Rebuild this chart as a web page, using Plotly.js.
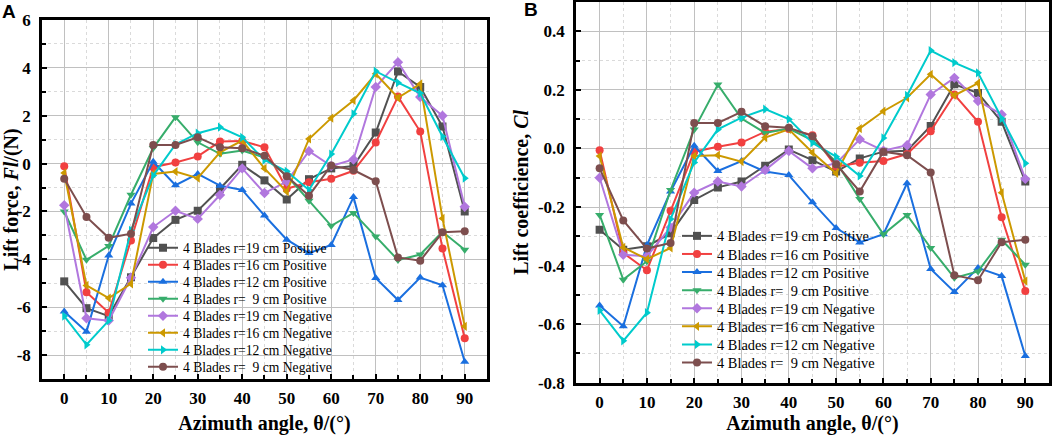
<!DOCTYPE html>
<html><head><meta charset="utf-8">
<script src="https://cdn.plot.ly/plotly-3.0.1.min.js"></script>
<style>html,body{margin:0;padding:0;background:#fff}#chart{width:1052px;height:435px}</style>
</head><body><div id="chart"></div><script>
// ---- data ----
const angles = [0,5,10,15,20,25,30,35,40,45,50,55,60,65,70,75,80,85,90];
const seriesNames = [
  "4 Blades r=19 cm Positive",
  "4 Blades r=16 cm Positive",
  "4 Blades r=12 cm Positive",
  "4 Blades r=\u00a0\u00a09 cm Positive",
  "4 Blades r=19 cm Negative",
  "4 Blades r=16 cm Negative",
  "4 Blades r=12 cm Negative",
  "4 Blades r=\u00a0\u00a09 cm Negative"
];
// Panel A: lift force Fl (N)
const force_r19Pos = [-4.92,-6.04,-6.37,-4.75,-3.11,-2.35,-1.97,-1.05,-0.05,-0.7,-1.5,-0.65,-0.2,-0.1,1.3,3.85,3.2,1.55,-2.0];
const force_r16Pos = [-0.11,-5.37,-6.23,-3.21,-0.15,0.05,0.3,0.92,0.95,0.68,-1.05,-0.78,-0.63,-0.3,0.88,2.8,1.34,-3.55,-7.3];
const force_r12Pos = [-6.18,-7.02,-3.84,-1.67,0.08,-0.9,-0.43,-0.92,-1.1,-2.17,-3.18,-3.74,-3.4,-1.4,-4.78,-5.7,-4.76,-5.08,-8.28];
const force_r9Pos  = [-2.0,-4.02,-3.44,-1.3,0.65,1.94,0.89,0.41,0.55,0.25,-0.5,-1.55,-2.6,-2.06,-3.05,-4.03,-3.8,-2.85,-3.6];
const force_r19Neg = [-1.74,-6.46,-6.56,-4.77,-2.65,-1.97,-2.31,-1.31,-0.2,-1.23,-0.75,0.52,-0.1,0.17,3.2,4.24,2.78,2.0,-1.8];
const force_r16Neg = [-0.39,-5.09,-5.62,-5.02,-0.43,-0.33,-0.61,0.47,0.96,-0.2,-1.17,1.03,1.9,2.64,3.75,2.75,3.33,-2.29,-6.8];
const force_r12Neg = [-6.37,-7.57,-6.56,-2.79,-0.5,0.8,1.27,1.52,1.1,0.15,-0.32,-1.1,0.4,2.08,3.86,3.38,2.94,1.13,-0.61];
const force_r9Neg  = [-0.63,-2.23,-3.1,-2.93,0.78,0.78,1.1,0.68,0.64,0.33,-0.53,-1.34,-0.08,-0.27,-0.74,-3.92,-4.06,-2.87,-2.83];
// Panel B: lift coefficient Cl
const cl_r19Pos = [-0.278,-0.346,-0.334,-0.29,-0.176,-0.133,-0.113,-0.059,-0.004,-0.04,-0.079,-0.034,-0.011,-0.008,0.077,0.219,0.189,0.091,-0.113];
const cl_r16Pos = [-0.006,-0.357,-0.416,-0.213,-0.011,0.006,0.02,0.057,0.066,0.045,-0.062,-0.049,-0.043,-0.019,0.059,0.184,0.091,-0.235,-0.487];
const cl_r12Pos = [-0.536,-0.607,-0.33,-0.147,0.009,-0.077,-0.043,-0.079,-0.091,-0.184,-0.272,-0.321,-0.293,-0.119,-0.412,-0.49,-0.408,-0.436,-0.709];
const cl_r9Pos  = [-0.227,-0.448,-0.385,-0.142,0.065,0.218,0.102,0.053,0.068,0.028,-0.045,-0.173,-0.293,-0.227,-0.34,-0.442,-0.42,-0.312,-0.397];
const cl_r19Neg = [-0.1,-0.363,-0.368,-0.27,-0.151,-0.113,-0.13,-0.074,-0.009,-0.068,-0.051,0.031,-0.008,0.011,0.184,0.241,0.162,0.116,-0.104];
const cl_r16Neg = [-0.026,-0.338,-0.378,-0.34,-0.026,-0.023,-0.045,0.037,0.065,-0.014,-0.085,0.068,0.127,0.173,0.253,0.181,0.223,-0.151,-0.453];
const cl_r12Neg = [-0.553,-0.657,-0.561,-0.241,-0.048,0.065,0.105,0.134,0.1,0.019,-0.028,-0.094,0.036,0.181,0.334,0.293,0.258,0.102,-0.051];
const cl_r9Neg  = [-0.068,-0.246,-0.342,-0.323,0.087,0.087,0.125,0.076,0.071,0.042,-0.054,-0.147,-0.011,-0.023,-0.082,-0.433,-0.45,-0.32,-0.312];

const forceSeries = [force_r19Pos,force_r16Pos,force_r12Pos,force_r9Pos,force_r19Neg,force_r16Neg,force_r12Neg,force_r9Neg];
const clSeries = [cl_r19Pos,cl_r16Pos,cl_r12Pos,cl_r9Pos,cl_r19Neg,cl_r16Neg,cl_r12Neg,cl_r9Neg];

const xTickVals = [0,10,20,30,40,50,60,70,80,90];
const forceTickVals = [-8,-6,-4,-2,0,2,4,6];
const forceTickText = ["-8","-6","-4","-2","0","2","4","6"];
const forceMinorVals = [-9,-7,-5,-3,-1,1,3,5];
const clTickVals = [-0.8,-0.6,-0.4,-0.2,0,0.2,0.4];
const clTickText = ["-0.8","-0.6","-0.4","-0.2","0.0","0.2","0.4"];
const clMinorVals = [-0.7,-0.5,-0.3,-0.1,0.1,0.3,0.5];

// ---- style ----
const colors = ["#515151","#F14040","#1A6FDF","#37AD6B","#B177DE","#CC9900","#00CBCC","#7D4E4E"];
const symbols = ["square","circle","triangle-up","triangle-down","diamond","triangle-left","triangle-right","circle"];
const serif = "Liberation Serif, Times New Roman, serif";
const W = 1052, H = 435;

const traces = [];
const legends = {};
// legend placement (pixels): left edge, first item centre, item step
function addTraces(data, xa, ya, legendOffset, legLeftPx, legTopPx, legStepPx, legFontSize) {
  data.forEach((ys, i) => {
    const n = legendOffset + i;
    const id = n === 1 ? "legend" : "legend" + n;
    legends[id] = {
      x: legLeftPx / W, y: 1 - (legTopPx + legStepPx * i) / H,
      xanchor: "left", yanchor: "middle", bgcolor: "rgba(0,0,0,0)",
      borderwidth: 0, font: {family: serif, size: legFontSize, color: "#000"}, itemwidth: 30
    };
    traces.push({
      x: angles, y: ys, xaxis: xa, yaxis: ya, legend: id,
      name: seriesNames[i], type: "scatter", mode: "lines+markers",
      line: {color: colors[i], width: 2},
      marker: {color: colors[i], symbol: symbols[i], size: 8, line: {width: 0}}
    });
  });
}
addTraces(forceSeries, "x", "y", 1, 143, 248, 17.0, 13.6);
addTraces(clSeries, "x2", "y2", 9, 677, 236, 18.1, 14.4);

const tickFont = {family: serif, size: 17, color: "#000", weight: 700};
const titleFont = {family: serif, size: 20, color: "#000", weight: 700};

function xAxis(domain, anchor) {
  return {
    domain: domain, anchor: anchor, range: [-5, 95],
    tickmode: "array", tickvals: xTickVals,
    ticks: "inside", ticklen: 5, tickwidth: 2, tickcolor: "#000",
    showline: true, linewidth: 2.5, linecolor: "#000", mirror: true,
    showgrid: true, gridcolor: "#c0c0c0", gridwidth: 1, zeroline: false,
    tickfont: tickFont, ticklabelstandoff: 2,
    minor: {tickmode: "linear", tick0: 5, dtick: 10, ticks: "inside", ticklen: 4, tickwidth: 1.5, tickcolor: "#000",
            showgrid: true, gridcolor: "#dadada", gridwidth: 1, griddash: "dot"},
    title: {text: "Azimuth angle, θ/(°)", font: titleFont, standoff: 9}
  };
}
function yAxis(domain, anchor, range, vals, text, minorVals, title) {
  return {
    domain: domain, anchor: anchor, range: range,
    tickmode: "array", tickvals: vals, ticktext: text,
    ticks: "inside", ticklen: 5, tickwidth: 2, tickcolor: "#000",
    showline: true, linewidth: 2.5, linecolor: "#000", mirror: true,
    showgrid: true, gridcolor: "#c0c0c0", gridwidth: 1, zeroline: false,
    tickfont: tickFont, ticklabelstandoff: 5,
    minor: {tickmode: "array", tickvals: minorVals, ticks: "inside", ticklen: 4, tickwidth: 1.5, tickcolor: "#000",
            showgrid: true, gridcolor: "#dadada", gridwidth: 1, griddash: "dot"},
    title: {text: title, font: titleFont, standoff: 4}
  };
}

const layout = Object.assign({
  width: W, height: H,
  margin: {l: 0, r: 0, t: 0, b: 0},
  paper_bgcolor: "#fff", plot_bgcolor: "#fff",
  showlegend: true,
  xaxis: xAxis([0.0399, 0.4629], "y"),
  yaxis: yAxis([0.1287, 0.954], "x", [-9, 6], forceTickVals, forceTickText, forceMinorVals, "Lift force, <i>Fl</i>/(N)"),
  xaxis2: xAxis([0.5475, 0.9971], "y2"),
  yaxis2: yAxis([0.1202, 0.9954], "x2", [-0.8, 0.5], clTickVals, clTickText, clMinorVals, "Lift coefficience, <i>Cl</i>"),
  annotations: [
    {text: "A", xref: "paper", yref: "paper", x: 0.0, y: 1.0, xanchor: "left", yanchor: "top", yshift: 1,
     showarrow: false, font: {family: "Liberation Sans, Arial, sans-serif", size: 19, color: "#000", weight: 700}},
    {text: "B", xref: "paper", yref: "paper", x: 0.4962, y: 1.0, xanchor: "left", yanchor: "top", yshift: 3,
     showarrow: false, font: {family: "Liberation Sans, Arial, sans-serif", size: 19, color: "#000", weight: 700}}
  ]
}, legends);

Plotly.newPlot("chart", traces, layout, {displayModeBar: false, responsive: false});
</script></body></html>
